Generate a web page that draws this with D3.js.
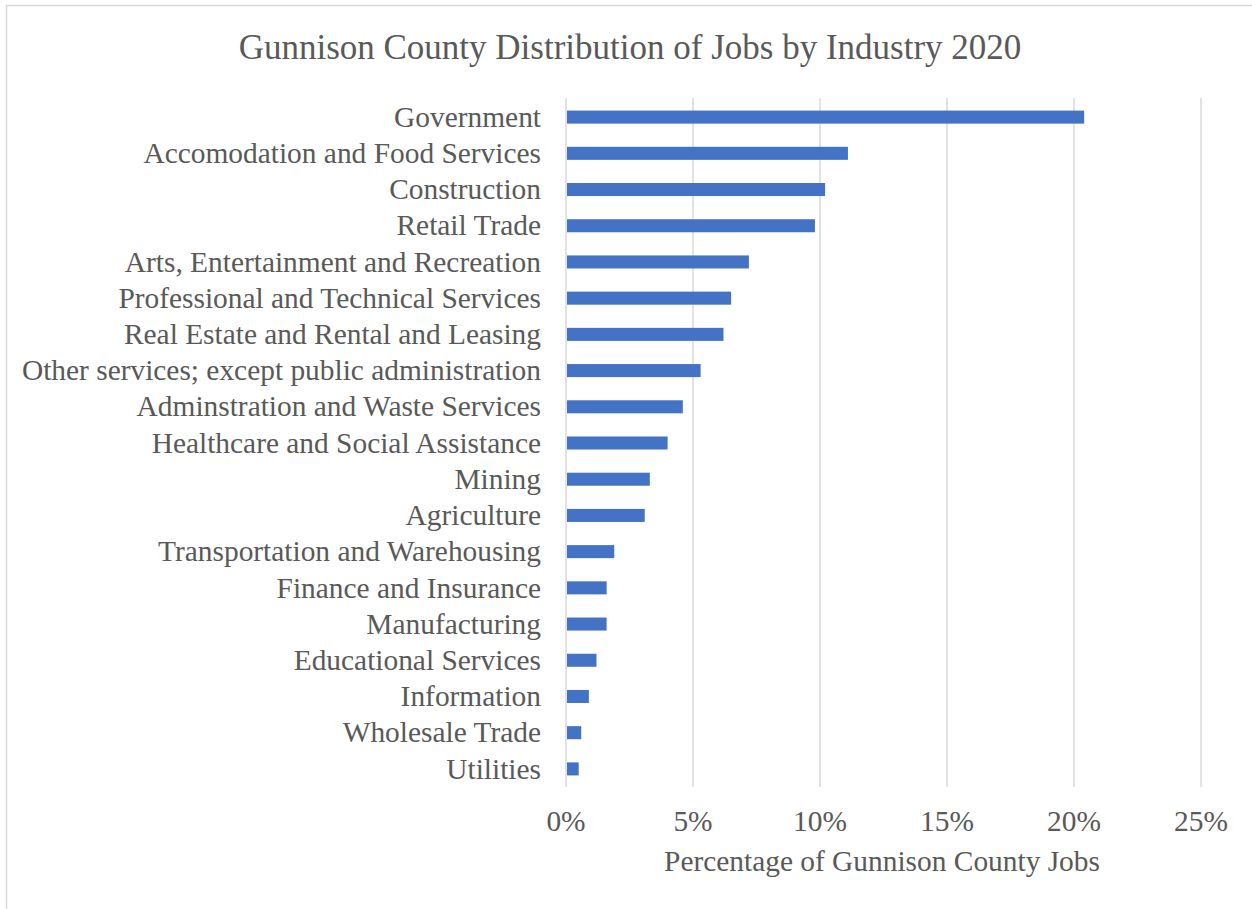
<!DOCTYPE html>
<html>
<head>
<meta charset="utf-8">
<script src="https://cdn.jsdelivr.net/npm/d3@7"></script>
<style>
  html, body { margin: 0; padding: 0; background: #fff; }
  svg { display: block; }
  text { font-family: "Liberation Serif", "Times New Roman", serif; fill: #595959; }
</style>
</head>
<body>
<svg id="chart" width="1252" height="909"></svg>
<script>
const categories = [
  "Government",
  "Accomodation and Food Services",
  "Construction",
  "Retail Trade",
  "Arts, Entertainment and Recreation",
  "Professional and Technical Services",
  "Real Estate and Rental and Leasing",
  "Other services; except public administration",
  "Adminstration and Waste Services",
  "Healthcare and Social Assistance",
  "Mining",
  "Agriculture",
  "Transportation and Warehousing",
  "Finance and Insurance",
  "Manufacturing",
  "Educational Services",
  "Information",
  "Wholesale Trade",
  "Utilities"
];
const values = [20.4, 11.1, 10.2, 9.8, 7.2, 6.5, 6.2, 5.3, 4.6, 4.0, 3.3, 3.1, 1.9, 1.6, 1.6, 1.2, 0.9, 0.6, 0.5];
const tickValues = [0, 5, 10, 15, 20, 25];
const title = "Gunnison County Distribution of Jobs by Industry 2020";
const xTitle = "Percentage of Gunnison County Jobs";

const svg = d3.select("#chart");

// chart border (left/top visible)
svg.append("rect")
  .attr("x", 6.5).attr("y", 5.5)
  .attr("width", 1260).attr("height", 920)
  .attr("fill", "none").attr("stroke", "#D9D9D9").attr("stroke-width", 1.5);

const x = d3.scaleLinear().domain([0, 25]).range([566, 1201]);
const y = d3.scaleBand().domain(categories).range([99, 787]).paddingInner(0.64).paddingOuter(0.32);

// gridlines
svg.append("g").selectAll("line").data(tickValues).join("line")
  .attr("x1", d => x(d)).attr("x2", d => x(d))
  .attr("y1", 98).attr("y2", 787)
  .attr("stroke", "#D9D9D9").attr("stroke-width", 1.5);

// bars
svg.append("g").selectAll("rect").data(categories).join("rect")
  .attr("x", x(0) + 1)
  .attr("y", d => y(d))
  .attr("width", (d, i) => x(values[i]) - x(0) - 1)
  .attr("height", y.bandwidth())
  .attr("fill", "#4472C4");

// category labels
svg.append("g").selectAll("text").data(categories).join("text")
  .attr("x", 541)
  .attr("y", d => y(d) + y.bandwidth() / 2)
  .attr("dy", "0.33em")
  .attr("text-anchor", "end")
  .attr("font-size", 29.4)
  .text(d => d);

// tick labels
svg.append("g").selectAll("text").data(tickValues).join("text")
  .attr("x", d => x(d))
  .attr("y", 831)
  .attr("text-anchor", "middle")
  .attr("font-size", 29.4)
  .text(d => d + "%");

// axis title
svg.append("text")
  .attr("x", 882).attr("y", 871)
  .attr("text-anchor", "middle")
  .attr("font-size", 29.4)
  .text(xTitle);

// title
svg.append("text")
  .attr("x", 630).attr("y", 59)
  .attr("text-anchor", "middle")
  .attr("font-size", 35)
  .text(title);
</script>
</body>
</html>
